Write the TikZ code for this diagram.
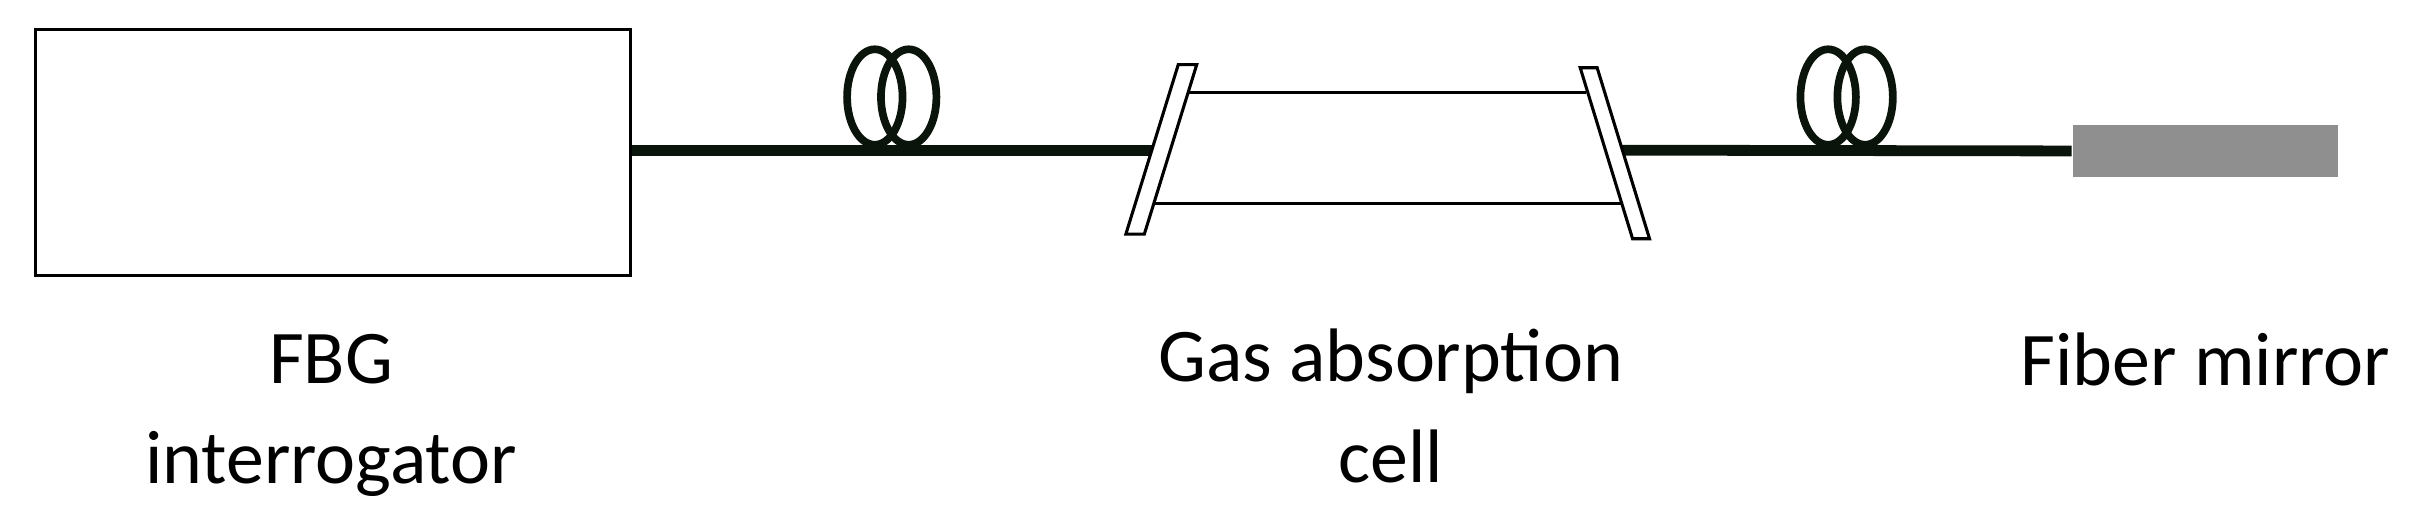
\documentclass[tikz,border=0pt]{standalone}
\usepackage{fontspec}
\setmainfont{Carlito}
\begin{document}
\begin{tikzpicture}[x=0.01cm,y=-0.01cm,
  fib/.style={line width=0.07cm,draw=fibc},
  coil/.style={line width=0.05cm,draw=fibc},
  win/.style={draw=black,fill=white,line width=0.02cm},
  lbl/.style={font=\fontsize{14}{18.5}\selectfont,align=center,anchor=base}]
\definecolor{fibc}{HTML}{0A140A}
\definecolor{mgray}{HTML}{8F8F8F}
\useasboundingbox (0,0) rectangle (1568,336);
\node[draw=black,line width=0.02cm,minimum width=3.86cm,minimum height=1.6cm,inner sep=0,anchor=north west] (box) at (22,18) {};
\coordinate (c1a) at (748,97.5);
\coordinate (c2a) at (1052,97.5);
\node[fill=mgray,minimum width=1.72cm,minimum height=0.34cm,inner sep=0,anchor=west] (mir) at (1345,98) {};
\draw[fib] (box.east |- c1a) -- (c1a);
\draw[fib] (c2a) -- (mir.west);
\draw[coil] (568,63) ellipse [x radius=18,y radius=31];
\draw[coil] (590,63) ellipse [x radius=18,y radius=31];
\draw[coil] (1187,63) ellipse [x radius=18,y radius=31];
\draw[coil] (1211,63) ellipse [x radius=18,y radius=31];
\draw[line width=0.02cm] (771,60) -- (1030,60);
\draw[line width=0.02cm] (750,132) -- (1054,132);
\draw[win] (765,42) -- (777,42) -- (743,152) -- (731,152) -- cycle;
\draw[win] (1026,44) -- (1037,44) -- (1071,155) -- (1060,155) -- cycle;
\node[lbl] (l1) at (215,314) {FBG\\interrogator};
\node[lbl] (l2) at (903,313) {Gas absorption\\cell};
\node[lbl] (l3) at (1432,250) {Fiber mirror};
\end{tikzpicture}
\end{document}
